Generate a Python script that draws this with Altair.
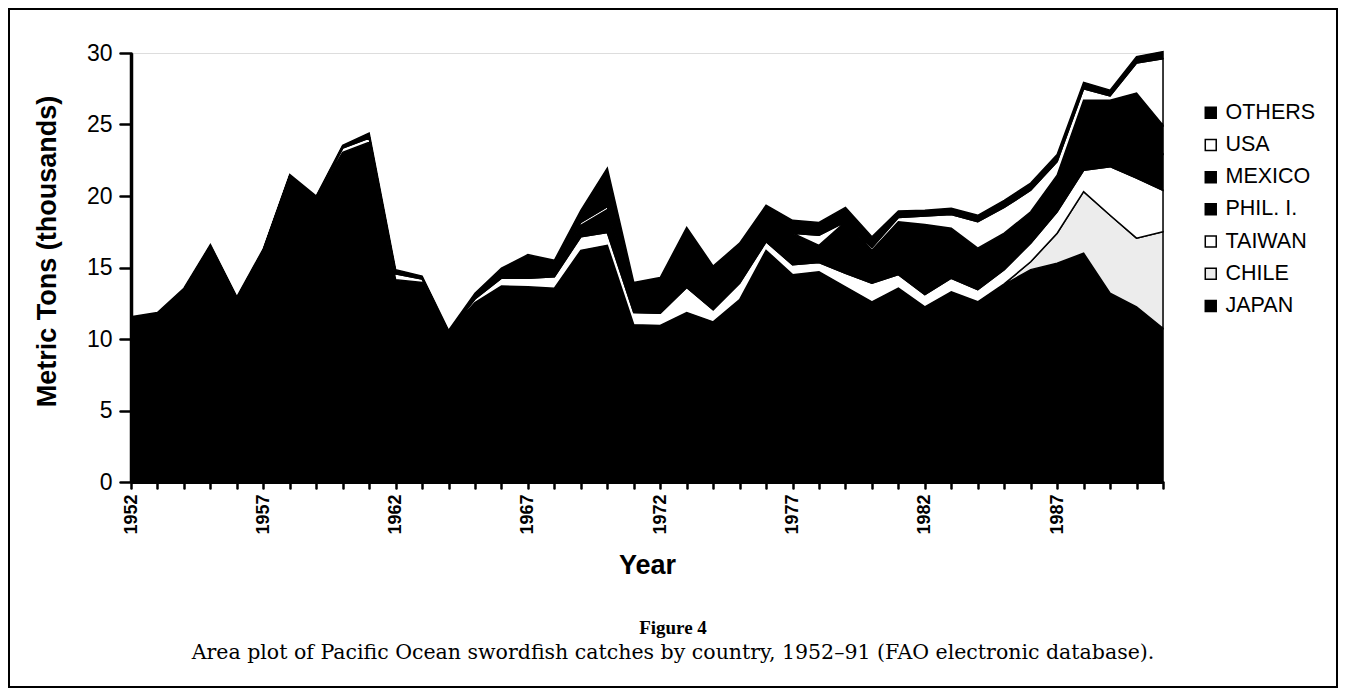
import altair as alt
import pandas as pd

years = list(range(1952, 1992))

japan = [11.45, 11.75, 13.45, 16.5, 12.85, 16.2, 21.4, 19.9, 23.05, 23.75,
         14.15, 13.95, 10.5, 12.55, 13.7, 13.65, 13.55, 16.2, 16.55, 11.0,
         10.95, 11.85, 11.2, 12.75, 16.2, 14.5, 14.7, 13.65, 12.6, 13.55,
         12.25, 13.3, 12.6, 13.8, 14.85, 15.3, 16.0, 13.2, 12.25, 10.75]
chile = [0, 0, 0, 0, 0, 0, 0, 0, 0, 0,
         0, 0, 0, 0, 0, 0, 0, 0, 0, 0,
         0, 0, 0, 0, 0, 0, 0, 0, 0, 0,
         0, 0, 0, 0.05, 0.55, 2.1, 4.3, 5.45, 4.8, 6.75]
taiwan = [0, 0, 0, 0, 0, 0, 0, 0, 0.3, 0.3,
          0.4, 0.25, 0, 0.25, 0.55, 0.6, 0.8, 0.95, 0.9, 0.85,
          0.85, 1.75, 0.85, 1.15, 0.6, 0.7, 0.65, 0.95, 1.3, 0.95,
          0.85, 0.95, 0.85, 1.0, 1.3, 1.5, 1.5, 3.4, 4.2, 2.9]
phil = [0, 0, 0, 0, 0, 0, 0, 0, 0.1, 0.15,
        0.1, 0.1, 0, 0.15, 0.3, 0.7, 0.5, 0.5, 0.9, 1.0,
        1.1, 1.8, 1.3, 1.2, 1.1, 1.2, 0.7, 2.0, 1.3, 2.1,
        2.7, 1.9, 1.6, 1.4, 1.2, 1.4, 2.7, 2.6, 3.3, 2.55]
mexico = [0, 0, 0, 0, 0, 0, 0, 0, 0, 0,
          0, 0, 0, 0.1, 0.2, 0.45, 0.3, 0.3, 0.7, 0.6,
          0.8, 1.4, 1.0, 0.9, 0.85, 1.0, 0.5, 1.6, 1.0, 1.6,
          2.2, 1.6, 1.3, 1.15, 1.0, 1.15, 2.2, 2.05, 2.65, 2.0]
usa = [0, 0, 0, 0, 0, 0, 0, 0, 0, 0,
       0, 0, 0, 0, 0, 0, 0, 0.2, 0.2, 0,
       0, 0, 0, 0, 0, 0, 0.7, 0, 0.2, 0.3,
       0.6, 0.95, 1.85, 1.8, 1.5, 0.95, 0.8, 0.3, 2.1, 4.65]
others = [0.1, 0.1, 0.1, 0.1, 0.1, 0.1, 0.1, 0.1, 0.1, 0.2,
          0.2, 0.1, 0.1, 0.15, 0.2, 0.5, 0.35, 0.85, 2.7, 0.5,
          0.6, 1.0, 0.75, 0.7, 0.6, 0.9, 0.9, 1.0, 0.75, 0.45,
          0.4, 0.45, 0.45, 0.5, 0.5, 0.5, 0.45, 0.4, 0.45, 0.5]

stack_order = ["JAPAN", "CHILE", "TAIWAN", "PHIL. I.", "MEXICO", "USA", "OTHERS"]
legend_order = ["OTHERS", "USA", "MEXICO", "PHIL. I.", "TAIWAN", "CHILE", "JAPAN"]
fill_colors = ["#000000", "#ffffff", "#000000", "#000000", "#ffffff", "#ececec", "#000000"]
series = [japan, chile, taiwan, phil, mexico, usa, others]

rows = []
for rank, (name, vals) in enumerate(zip(stack_order, series)):
    for yr, v in zip(years, vals):
        rows.append({"year": yr, "country": name, "catch": v, "rank": rank})
df = pd.DataFrame(rows)

W, H = 1032, 429
PAD = {"left": 123, "top": 45, "right": 175, "bottom": 206}

sans = "Liberation Sans"
serif = "Liberation Serif"

area = alt.Chart(df).mark_area(
    stroke="black", strokeWidth=1.5, interpolate="linear", strokeJoin="miter"
).encode(
    x=alt.X("year:Q",
            scale=alt.Scale(domain=[1952, 1991], nice=False, zero=False),
            axis=alt.Axis(values=years,
                          labelExpr="datum.value % 5 == 2 ? toString(datum.value) : ''",
                          labelAngle=270, labelAlign="right", labelBaseline="middle",
                          labelFont=sans, labelFontSize=18, labelFontWeight="bold",
                          labelColor="black", labelPadding=6, labelOverlap=False,
                          tickSize=6, tickWidth=2.5, tickColor="black", tickCap="round",
                          domainColor="black", domainWidth=3, grid=False,
                          title="Year", titleFont=sans, titleFontSize=27,
                          titleFontWeight="bold", titleColor="black",
                          titleBaseline="top", titleY=70, titleX=516)),
    y=alt.Y("catch:Q", stack="zero",
            scale=alt.Scale(domain=[0, 30], nice=False),
            axis=alt.Axis(values=[0, 5, 10, 15, 20, 25, 30],
                          labelFont=sans, labelFontSize=23, labelColor="black",
                          labelPadding=8,
                          tickSize=11, tickWidth=2.5, tickColor="black", tickCap="round",
                          domainColor="black", domainWidth=3.5, grid=False,
                          title="Metric Tons (thousands)", titleFont=sans,
                          titleFontSize=27, titleFontWeight="bold", titleColor="black",
                          titleAngle=270, titleAlign="center", titleBaseline="bottom",
                          titleX=-70, titleY=198)),
    color=alt.Color("country:N",
                    scale=alt.Scale(domain=legend_order, range=fill_colors),
                    legend=alt.Legend(title=None, orient="none", legendX=1069, legendY=49,
                                      symbolType="square", symbolSize=120,
                                      symbolStrokeColor="black", symbolStrokeWidth=1.5,
                                      symbolOpacity=1,
                                      labelFont=sans, labelFontSize=21.5, labelColor="black",
                                      labelOffset=4, rowPadding=9.2, padding=0)),
    order=alt.Order("rank:Q", sort="ascending"),
)

caption_title = ["Figure 4"]
caption_text = ["Area plot of Pacific Ocean swordfish catches by country, 1952\u201391 (FAO electronic database)."]

fig_label = alt.Chart(pd.DataFrame({"t": caption_title})).mark_text(
    font=serif, fontSize=19, fontWeight="bold", color="black", align="center", baseline="middle"
).encode(text="t:N", x=alt.value(542), y=alt.value(575))

fig_caption = alt.Chart(pd.DataFrame({"t": caption_text})).mark_text(
    font="DejaVu Serif", fontSize=20.5, color="black", align="center", baseline="middle"
).encode(text="t:N", x=alt.value(542), y=alt.value(600))

frame = alt.Chart(pd.DataFrame({"k": [0]})).mark_rect(
    fill="white", fillOpacity=0, stroke="black", strokeWidth=2
).encode(x=alt.value(-122), x2=alt.value(1206), y=alt.value(-44), y2=alt.value(634))

chart = alt.layer(frame, area, fig_label, fig_caption).properties(
    width=W, height=H,
    autosize=alt.AutoSizeParams(type="none"),
    padding=PAD,
).configure_view(stroke=None).configure(background="white")

chart.save("out.html", embed_options={"renderer": "svg", "actions": False})
